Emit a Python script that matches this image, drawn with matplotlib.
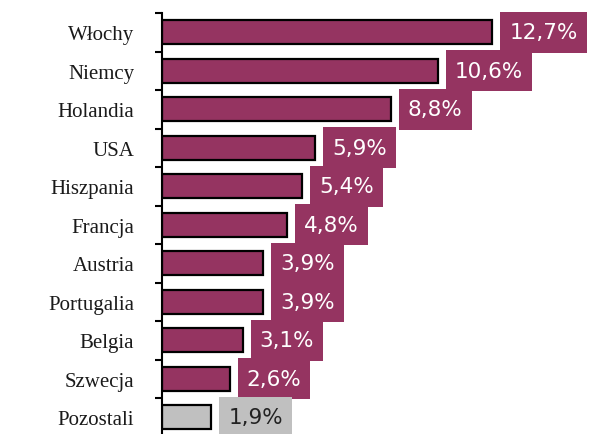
import numpy as np
import matplotlib.pyplot as plt

# data
kraje = ["Włochy", "Niemcy", "Holandia", "USA", "Hiszpania", "Francja",
         "Austria", "Portugalia", "Belgia", "Szwecja", "Pozostali"]
udzial = [12.7, 10.6, 8.8, 5.9, 5.4, 4.8, 3.9, 3.9, 3.1, 2.6, 1.9]
etykiety = ["12,7%", "10,6%", "8,8%", "5,9%", "5,4%", "4,8%",
            "3,9%", "3,9%", "3,1%", "2,6%", "1,9%"]

kolor = "#953461"
szary = "#c0c0c0"
kolory = [kolor] * 10 + [szary]

W, H = 595, 435
fig = plt.figure(figsize=(W / 100, H / 100), dpi=100)
ax = fig.add_axes([162 / W, -2.5 / H, 1 - 162 / W, (435 - 14 + 2.5) / H])

y = np.arange(len(kraje))
ax.barh(y, udzial, height=0.62, color=kolory, edgecolor="black", linewidth=1.6)
ax.set_ylim(len(kraje) - 0.5, -0.5)
ax.set_xlim(0, (W - 162) / 26.0)

for i, (v, t) in enumerate(zip(udzial, etykiety)):
    fc = kolory[i]
    tc = "white" if fc == kolor else "#222222"
    ax.annotate(t, xy=(v, i), xytext=(12.3, 0), textcoords="offset points",
                ha="left", va="center", fontsize=15.5, color=tc,
                family="DejaVu Sans",
                bbox=dict(boxstyle="square,pad=0.42", fc=fc, ec="none",
                          mutation_aspect=1.15))

# ticks between categories, labels at centers
ax.set_yticks(np.arange(-0.5, len(kraje), 1))
ax.set_yticklabels([])
ax.set_yticks(y, minor=True)
ax.set_yticklabels(kraje, minor=True, family="Liberation Serif", fontsize=15,
                   color="#1a1a1a")
ax.tick_params(axis="y", which="major", length=5, width=1.5, direction="out")
ax.tick_params(axis="y", which="minor", length=0, pad=20)
ax.set_xticks([])
for s in ["top", "right", "bottom"]:
    ax.spines[s].set_visible(False)
ax.spines["left"].set_linewidth(1.5)

fig.savefig("out.png", dpi=100)
